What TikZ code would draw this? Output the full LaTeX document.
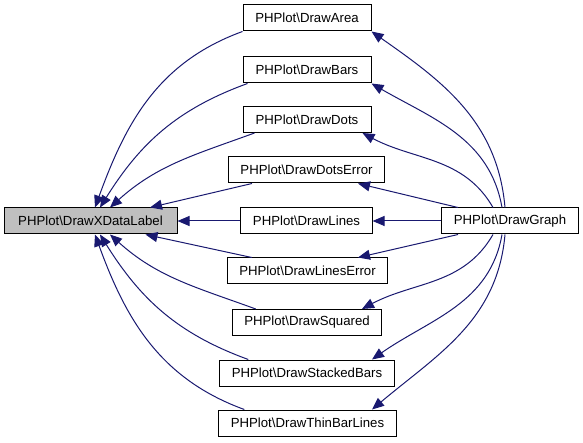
\documentclass[tikz,border=0pt]{standalone}
\usepackage{fontspec}
\setmainfont{Liberation Sans}
\usetikzlibrary{arrows.meta}
\definecolor{edgeblue}{RGB}{25,25,112}
\definecolor{nodegray}{RGB}{191,191,191}
\tikzset{
    fn/.style={draw=black, line width=1pt, fill=white, minimum height=26pt,
        minimum width=128pt, inner xsep=12pt, font=\fontsize{13.2}{15}\selectfont},
    edge/.style={draw=edgeblue, line width=1pt,
        -{Triangle[length=12pt,width=10pt,fill=edgeblue]}},
}
\newcommand{\fname}[1]{PHPlot\textbackslash #1}
\begin{document}
\begin{tikzpicture}[x=1pt,y=1pt]
		\useasboundingbox (0,0) rectangle (583,-443);
		% callers of DrawXDataLabel
		\node[fn, fill=nodegray, minimum width=173pt] (xlabel) at (90.5,-221) {\fname{DrawXDataLabel}};
		\node[fn] (area) at (307,-18) {\fname{DrawArea}};
		\node[fn] (bars) at (307,-70) {\fname{DrawBars}};
		\node[fn] (dots) at (307,-119.5) {\fname{DrawDots}};
		\node[fn] (dotserr) at (306.5,-170) {\fname{DrawDotsError}};
		\node[fn] (lines) at (306.5,-221) {\fname{DrawLines}};
		\node[fn] (lineserr) at (307.5,-271) {\fname{DrawLinesError}};
		\node[fn] (squared) at (307,-322.5) {\fname{DrawSquared}};
		\node[fn] (stacked) at (307,-373) {\fname{DrawStackedBars}};
		\node[fn] (thin) at (307.5,-423) {\fname{DrawThinBarLines}};
		\node[fn] (graph) at (510,-221) {\fname{DrawGraph}};
		% edges into DrawXDataLabel
		\draw[edge] (area.south west) to[out=200,in=70] ([xshift=4.5pt]xlabel.north);
		\draw[edge] ([xshift=5pt]bars.south west) to[out=200,in=58] ([xshift=9.5pt]xlabel.north);
		\draw[edge] ([xshift=12pt]dots.south west) to[out=200,in=42] ([xshift=19.5pt]xlabel.north);
		\draw[edge] ([xshift=24pt]dotserr.south west) -- ([xshift=59.5pt]xlabel.north);
		\draw[edge] (lines.west) -- (xlabel.east);
		\draw[edge] ([xshift=25pt]lineserr.north west) -- ([xshift=55pt]xlabel.south);
		\draw[edge] ([xshift=24pt]squared.north west) to[out=160,in=-42] ([xshift=19.5pt]xlabel.south);
		\draw[edge] ([xshift=29pt]stacked.north west) to[out=160,in=-58] ([xshift=9.5pt]xlabel.south);
		\draw[edge] ([xshift=26pt]thin.north west) to[out=160,in=-70] ([xshift=4.5pt]xlabel.south);
		% edges from DrawGraph
		\draw[edge] ([xshift=-5pt]graph.north) to[out=95,in=-35] (area.south east);
		\draw[edge] ([xshift=-8pt]graph.north) to[out=100,in=-30] (bars.south east);
		\draw[edge] ([xshift=-17pt]graph.north) to[out=120,in=-28] ([xshift=-9pt]dots.south east);
		\draw[edge] ([xshift=-52pt]graph.north) -- ([xshift=51.5pt]dotserr.south);
		\draw[edge] (graph.west) -- (lines.east);
		\draw[edge] ([xshift=-52pt]graph.south) -- ([xshift=50.5pt]lineserr.north);
		\draw[edge] ([xshift=-17pt]graph.south) to[out=-120,in=28] ([xshift=55pt]squared.north);
		\draw[edge] ([xshift=-8pt]graph.south) to[out=-100,in=35] ([xshift=65pt]stacked.north);
		\draw[edge] ([xshift=-5pt]graph.south) to[out=-95,in=40] ([xshift=64.5pt]thin.north);
	\end{tikzpicture}
\end{document}
